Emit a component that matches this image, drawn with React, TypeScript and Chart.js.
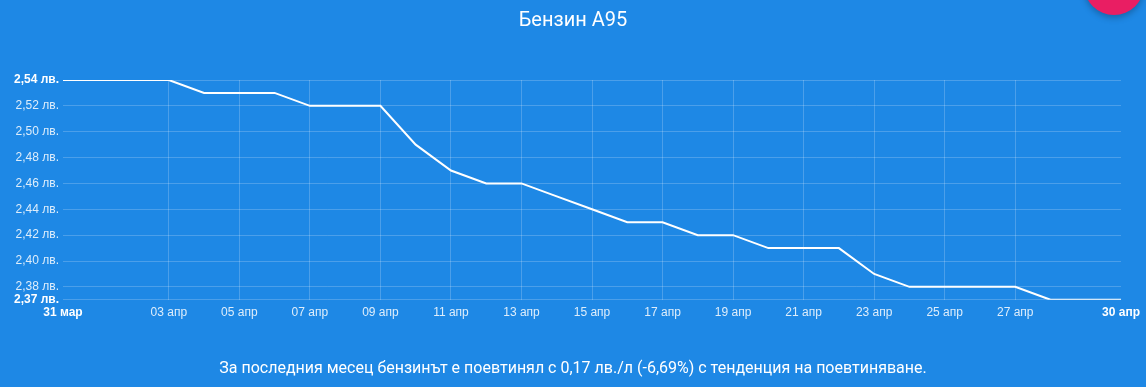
import React, { useEffect, useRef } from "react";
import { Chart, registerables } from "chart.js";

Chart.register(...registerables);

const dayLabels: string[] = [
  "31 мар", "01 апр", "02 апр", "03 апр", "04 апр", "05 апр", "06 апр", "07 апр",
  "08 апр", "09 апр", "10 апр", "11 апр", "12 апр", "13 апр", "14 апр", "15 апр",
  "16 апр", "17 апр", "18 апр", "19 апр", "20 апр", "21 апр", "22 апр", "23 апр",
  "24 апр", "25 апр", "26 апр", "27 апр", "28 апр", "29 апр", "30 апр",
];

const prices: number[] = [
  2.54, 2.54, 2.54, 2.54, 2.53, 2.53, 2.53, 2.52,
  2.52, 2.52, 2.49, 2.47, 2.46, 2.46, 2.45, 2.44,
  2.43, 2.43, 2.42, 2.42, 2.41, 2.41, 2.41, 2.39,
  2.38, 2.38, 2.38, 2.38, 2.37, 2.37, 2.37,
];

const shownXTicks: string[] = [
  "31 мар", "03 апр", "05 апр", "07 апр", "09 апр", "11 апр", "13 апр", "15 апр",
  "17 апр", "19 апр", "21 апр", "23 апр", "25 апр", "27 апр", "30 апр",
];

const yTicks: number[] = [2.37, 2.38, 2.4, 2.42, 2.44, 2.46, 2.48, 2.5, 2.52, 2.54];

const titleText = "Бензин А95";
const footerText =
  "За последния месец бензинът е поевтинял с 0,17 лв./л (-6,69%) с тенденция на поевтиняване.";

const BG = "#1E88E5";
const GRID = "rgba(255,255,255,0.2)";
const TICK_LIGHT = "rgba(255,255,255,0.85)";
const TICK_FONT = "Arial, 'Liberation Sans', sans-serif";

export default function App() {
  const canvasRef = useRef<HTMLCanvasElement | null>(null);

  useEffect(() => {
    const canvas = canvasRef.current;
    if (!canvas) return;
    const yMin = Math.min(...yTicks);
    const yMax = Math.max(...yTicks);
    const last = dayLabels.length - 1;
    const isShown = (i: number) => shownXTicks.includes(dayLabels[i]);

    const chart = new Chart(canvas, {
      type: "line",
      data: {
        labels: dayLabels,
        datasets: [
          {
            data: prices,
            borderColor: "#ffffff",
            borderWidth: 2,
            pointRadius: 0,
            pointHoverRadius: 0,
            tension: 0,
            fill: false,
            yAxisID: "y",
          },
        ],
      },
      options: {
        responsive: false,
        animation: false,
        layout: { padding: 0 },
        plugins: {
          legend: { display: false },
          tooltip: { enabled: false },
          title: {
            display: true,
            text: titleText,
            color: "#ffffff",
            font: { family: "Roboto", size: 20, weight: "normal" },
            padding: { top: 9, bottom: 47 },
          },
          subtitle: {
            display: true,
            position: "bottom",
            text: footerText,
            color: "#ffffff",
            font: { family: "Roboto", size: 16, weight: "normal" },
            padding: { top: 40, bottom: 8 },
          },
        },
        scales: {
          x: {
            type: "category",
            border: { display: false },
            grid: {
              drawTicks: false,
              color: (ctx: any) =>
                ctx.index !== 0 && ctx.index !== last && isShown(ctx.index) ? GRID : "transparent",
            },
            ticks: {
              autoSkip: false,
              maxRotation: 0,
              minRotation: 0,
              padding: 6,
              callback: (_v: any, i: number) => (isShown(i) ? dayLabels[i] : ""),
              color: (ctx: any) => (ctx.index === 0 || ctx.index === last ? "#ffffff" : TICK_LIGHT),
              font: (ctx: any) => ({
                family: TICK_FONT,
                size: 12,
                weight: ctx.index === 0 || ctx.index === last ? "bold" : "normal",
              }),
            },
            afterFit: (scale: any) => {
              scale.height = 20;
            },
          },
          y: {
            type: "linear",
            position: "left",
            min: yMin,
            max: yMax,
            border: { display: false },
            grid: { drawTicks: false, color: GRID },
            afterBuildTicks: (scale: any) => {
              scale.ticks = yTicks.map((v) => ({ value: v }));
            },
            afterFit: (scale: any) => {
              scale.width = 63;
            },
            ticks: {
              padding: 4,
              callback: (v: any) => Number(v).toFixed(2).replace(".", ",") + " лв.",
              color: (ctx: any) =>
                ctx.tick && (ctx.tick.value === yMin || ctx.tick.value === yMax) ? "#ffffff" : TICK_LIGHT,
              font: (ctx: any) => ({
                family: TICK_FONT,
                size: 12,
                weight:
                  ctx.tick && (ctx.tick.value === yMin || ctx.tick.value === yMax) ? "bold" : "normal",
              }),
            },
          },
          yRight: {
            type: "linear",
            position: "right",
            display: true,
            border: { display: false },
            grid: { display: false, drawTicks: false },
            ticks: { display: false },
            afterFit: (scale: any) => {
              scale.width = 24;
            },
          },
        },
      },
    });
    return () => chart.destroy();
  }, []);

  return (
    <div
      style={{
        position: "fixed",
        left: 0,
        top: 0,
        width: 1146,
        height: 387,
        background: BG,
        overflow: "hidden",
      }}
    >
      <canvas ref={canvasRef} width={1146} height={387} style={{ display: "block", width: 1146, height: 387 }} />
      <div
        style={{
          position: "absolute",
          left: 1084,
          top: -45,
          width: 60,
          height: 60,
          borderRadius: "50%",
          background: "#E91E63",
          boxShadow: "0 3px 6px rgba(0,0,0,0.25)",
        }}
      />
    </div>
  );
}
